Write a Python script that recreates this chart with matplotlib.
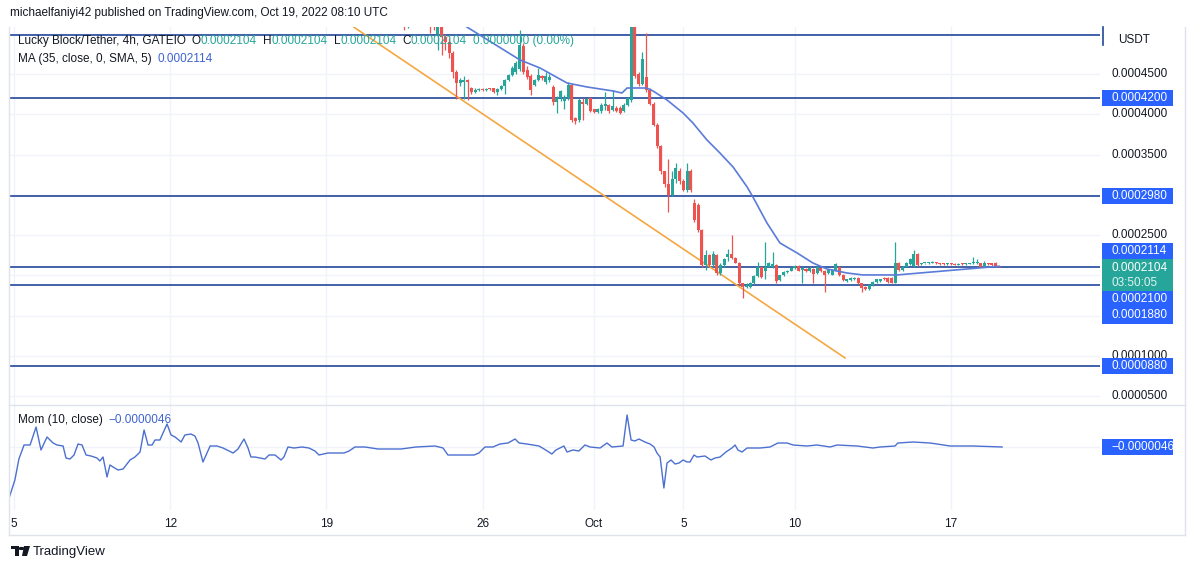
import numpy as np
import matplotlib
matplotlib.use("Agg")
import matplotlib.pyplot as plt
from matplotlib import patches, transforms

W, H, DPI = 1194, 570, 100
plt.rcParams['font.family'] = ['Liberation Sans', 'DejaVu Sans']

# ---------------- data ----------------
# time unit: days since 2022-09-05 00:00 ; price unit: 1e-7 USDT
P = 1e-7
candle_start = 17.5          # first 4h candle: Sep 22 12:00
candle_step = 1 / 6          # 4 hours
opens = [5350,5300,5320,5280,5300,5250,5220,5180,5150,5000,5120,4960,4900,4760,4530,4390,4400,4420,4330,4280,
         4300,4310,4300,4315,4320,4280,4310,4350,4430,4490,4520,4560,4850,4550,4480,4363,4426,4470,4400,4420,
         4340,4150,4200,4170,4200,4360,3950,3930,4150,4130,4200,4060,4030,4040,4100,4120,4050,4080,4080,4040,
         4120,4180,5150,4500,4380,4460,4300,4130,3870,3600,3290,3130,3000,3200,3300,3170,3060,3300,2900,2870,
         2560,2130,2250,2130,2250,2030,2130,2230,2270,2220,2160,1900,1860,1860,1900,1990,2100,2050,2110,2100,
         2130,1940,2000,2040,2060,2090,2120,2070,2080,2050,2080,2030,2090,2060,2030,2010,2070,2110,2010,1930,
         1940,1950,1970,1900,1860,1830,1880,1920,1930,1970,1970,1970,1910,2160,2070,2110,2140,2120,2260,2140,
         2150,2150,2160,2160,2150,2145,2140,2145,2145,2135,2150,2140,2145,2150,2150,2150,2110,2150,2150,2150,
         2110]
highs = [5450,5400,5380,5360,5350,5300,5260,5230,5200,5150,5150,5000,4950,4780,4550,4450,4470,4440,4340,4320,
         4330,4320,4330,4330,4330,4320,4360,4440,4500,4600,4660,5046,4880,4600,4500,4440,4570,4490,4520,4500,
         4360,4230,4300,4240,4400,4380,3970,4200,4200,4200,4220,4070,4080,4140,4280,4130,4300,4100,4100,4140,
         4220,5400,5300,4520,4773,5010,4320,4150,3890,3620,3300,3450,3300,3400,3330,3200,3390,3320,2950,2900,
         2580,2320,2260,2300,2260,2150,2220,2330,2500,2230,2170,1910,1900,1920,2000,2170,2110,2410,2170,2290,
         2140,2010,2050,2070,2100,2130,2130,2110,2090,2100,2090,2120,2100,2070,2080,2080,2160,2120,2020,1960,
         1980,1980,1980,1910,1870,1890,1930,1960,1960,1980,1980,1980,2420,2170,2120,2170,2220,2320,2280,2160,
         2160,2165,2175,2170,2160,2150,2150,2150,2150,2150,2155,2155,2160,2230,2210,2160,2180,2155,2160,2170,
         2115]
lows = [5050,5070,5150,5150,5120,5100,5090,5010,5040,4798,4736,4800,4700,4450,4190,4350,4190,4180,4250,4270,
        4290,4290,4290,4300,4270,4240,4300,4250,4410,4470,4500,4540,4500,4440,4240,4350,4410,4430,4380,4400,
        4120,4010,4170,4060,4180,3900,3880,3900,3930,4120,4030,4020,4020,4020,4050,4020,4040,4030,4000,4030,
        4100,4150,4450,4350,4360,4280,4110,3850,3580,3260,3100,2790,2980,3150,3140,3050,3040,3040,2660,2540,
        2100,2070,2110,2100,2010,2000,2110,2180,2200,2150,1880,1720,1840,1850,1890,1980,1970,1960,2100,2090,
        1900,1930,1990,2030,2050,2080,2050,1900,2040,2040,1910,2020,2040,1800,2020,2000,2060,1990,1930,1920,
        1930,1940,1890,1790,1820,1820,1870,1910,1920,1940,1910,1900,1900,2060,2060,2100,2130,2110,2120,2130,
        2140,2145,2150,2145,2135,2135,2135,2135,2130,2130,2135,2135,2140,2145,2140,2100,2100,2135,2120,2100,
        2100]
closes = [5300,5320,5280,5300,5250,5220,5180,5150,5100,5120,4960,4900,4760,4530,4390,4430,4430,4400,4280,4300,
          4310,4300,4315,4310,4280,4310,4350,4430,4490,4580,4636,4860,4520,4460,4300,4426,4490,4450,4480,4460,
          4150,4200,4290,4200,4360,3930,3920,4180,4130,4190,4040,4030,4060,4120,4130,4040,4100,4040,4020,4120,
          4200,5150,4470,4380,4680,4300,4130,3870,3600,3290,3130,3000,3200,3330,3170,3060,3300,3060,2690,2560,
          2130,2250,2130,2270,2030,2130,2200,2270,2220,2160,1900,1860,1880,1900,1990,2100,1980,2110,2160,2140,
          1930,2000,2040,2060,2090,2120,2060,2090,2050,2090,2020,2110,2050,2010,2070,2070,2140,2000,1940,1950,
          1970,1960,1900,1850,1830,1880,1920,1950,1950,1950,1920,1910,2160,2070,2110,2160,2200,2270,2130,2150,
          2155,2160,2170,2150,2140,2140,2145,2140,2135,2145,2140,2150,2155,2160,2160,2110,2160,2140,2130,2110,
          2104]

ma_t = [20.30,22.68,23.58,24.79,25.68,26.85,27.25,27.48,28.37,28.64,29.27,29.99,30.43,31.06,31.64,32.23,
        32.86,33.12,33.75,34.33,35.10,35.81,36.44,37.34,38.05,39.58,44.17]
ma_p = [5083,4674,4574,4388,4339,4289,4264,4326,4326,4289,4177,4016,3892,3681,3520,3346,
        3098,2974,2651,2403,2279,2154,2080,2030,2006,2006,2114]

trend_t = [15.24, 37.25]
trend_p = [5080, 976]

levels = [4980, 4200, 2980, 2100, 1880, 880]

mom_t = [-0.22,0.04,0.22,0.45,0.72,0.99,1.21,1.48,1.75,1.93,2.20,2.33,2.51,2.69,2.87,3.05,3.23,3.45,3.72,3.85,
         3.99,4.17,4.30,4.66,4.89,5.20,5.42,5.65,5.83,6.01,6.19,6.32,6.54,6.86,7.04,7.22,7.49,7.66,7.93,8.11,
         8.25,8.47,8.79,9.10,9.37,9.55,9.82,10.04,10.31,10.49,10.62,10.80,11.03,11.25,11.43,11.70,11.97,12.10,
         12.28,12.55,12.91,13.22,13.49,13.67,14.07,14.79,15.02,15.28,15.73,16.32,17.35,18.02,18.87,19.23,19.45,
         19.90,20.62,20.84,21.11,21.47,21.78,22.14,22.46,22.64,22.99,23.53,23.76,24.11,24.29,24.47,24.65,24.79,
         25.06,25.32,25.59,25.82,26.27,26.58,26.80,27.30,27.48,27.66,27.83,28.01,28.28,28.51,28.69,28.82,28.96,
         29.13,29.27,29.45,29.63,29.81,29.99,30.17,30.30,30.48,30.62,30.97,31.24,31.42,31.65,31.91,32.18,32.32,
         32.45,32.63,32.86,33.12,33.44,33.89,34.24,34.65,34.92,35.54,35.99,36.58,36.89,37.79,38.50,38.82,39.49,
         39.62,40.30,41.06,41.37,41.95,42.98,44.29]
# momentum, unit 1e-6 USDT
mom_v = [-167.8,-110.2,-43.0,1.8,1.8,59.4,-14.2,27.4,8.2,1.8,-1.4,-39.8,-43.0,-30.2,5.0,1.8,-30.2,-33.4,-39.8,
         -49.4,-36.6,-100.6,-62.2,-78.2,-75.0,-46.2,-36.6,-20.6,49.8,1.8,1.8,17.8,17.8,69.0,33.8,27.4,11.4,33.8,
         37.0,30.6,8.2,-52.6,-1.4,-1.4,-7.8,-14.2,-23.8,-11.0,21.0,-7.8,-36.6,-36.6,-39.8,-43.0,-30.2,-30.2,-46.2,
         -36.6,-4.6,-7.8,-4.6,-7.8,-17.4,-30.2,-23.8,-23.8,-17.4,-4.6,-4.6,-11.0,-11.0,-4.6,-1.4,-7.8,-30.2,-30.2,
         -30.2,-23.8,-4.6,-4.6,5.0,8.2,21.0,8.2,5.0,-1.4,-11.0,-27.0,-14.2,-7.8,-1.4,-20.6,-14.2,-17.4,1.8,-4.6,
         -7.8,8.2,-4.6,-1.4,97.8,17.8,14.6,21.0,11.4,5.0,-4.6,-23.8,-36.6,-135.8,-55.8,-46.2,-59.0,-55.8,-46.2,
         -52.6,-52.6,-30.2,-36.6,-33.4,-46.2,-39.8,-36.6,-20.6,-7.8,1.8,-14.2,-20.6,-7.8,-7.8,-7.8,-4.6,8.2,8.2,
         1.8,-1.4,1.8,-4.6,1.8,-1.4,-7.8,-4.6,-1.4,8.2,11.4,8.2,5.0,-1.4,-1.4,-4.6]

date_ticks = [0, 7, 14, 21, 26, 30, 35, 42]
date_labels = ["5", "12", "19", "26", "Oct", "5", "10", "17"]
price_ticks = [4500, 4000, 3500, 2500, 1000, 500]

# ---------------- styling ----------------
GREEN, RED = '#26a69a', '#ef5350'
LINE = '#22479a'
BLUE_BOX = '#2962ff'
TXT = '#131722'
GRID = '#f0f3fa'
BORDER = '#e0e3eb'

fig = plt.figure(figsize=(W / DPI, H / DPI), dpi=DPI)
fig.patch.set_facecolor('white')

def fx(x): return x / W
def fy(y): return 1 - y / H

L, R = 9, 1100
ax = fig.add_axes([fx(L), fy(405), fx(R) - fx(L), fy(27) - fy(405)])
ax2 = fig.add_axes([fx(L), fy(510), fx(R) - fx(L), fy(405) - fy(510)])
xlim = ((L - 14) / 22.31, (R - 14) / 22.31)
for a in (ax, ax2):
    a.set_xlim(*xlim)
    for s in a.spines.values():
        s.set_visible(False)
    a.set_yticks([])
    a.set_facecolor('none')
ax.set_xticks([])
ax.set_ylim(392 * P, 5083 * P)
ax2.set_ylim(-206.2, 129.8)

# grid
for v in range(500, 5001, 500):
    ax.axhline(v * P, color=GRID, lw=1, zorder=0)
for t in date_ticks:
    ax.axvline(t, color=GRID, lw=1, zorder=0)
    ax2.axvline(t, color=GRID, lw=1, zorder=0)
ax2.axhline(-4.6, color=GRID, lw=1, zorder=0)

# candles
o = np.array(opens) * P; h = np.array(highs) * P
lo = np.array(lows) * P; c = np.array(closes) * P
t = candle_start + np.arange(len(o)) * candle_step
col = np.where(c >= o, GREEN, RED)
ax.vlines(t, lo, h, colors=col, lw=0.9, zorder=3)
body = np.maximum(np.abs(c - o), 1.2e-6)
ax.bar(t, body, bottom=np.minimum(o, c), width=0.135, color=col, lw=0, zorder=4)

# levels, trend, MA
for lv in levels:
    ax.axhline(lv * P, color=LINE, lw=1.2, zorder=2)
ax.plot(trend_t, np.array(trend_p) * P, color='#f5a742', lw=1.2, zorder=2)
ax.plot(ma_t, np.array(ma_p) * P, color='#5a7bd8', lw=1.2, zorder=5)

# momentum
ax2.plot(mom_t, mom_v, color='#4c70cf', lw=1.0)
ax2.set_xticks(date_ticks)
ax2.set_xticklabels(date_labels, fontsize=8.5, color=TXT)
ax2.tick_params(axis='x', length=0, pad=6)

# frame and separators
fig.add_artist(plt.Line2D([fx(L), fx(1185)], [fy(405), fy(405)], color=BORDER, lw=1))
fig.add_artist(plt.Line2D([fx(L), fx(1185)], [fy(535), fy(535)], color=BORDER, lw=1))
fig.add_artist(plt.Line2D([fx(L), fx(L)], [fy(27), fy(535)], color=BORDER, lw=1))
fig.add_artist(plt.Line2D([fx(1185), fx(1185)], [fy(27), fy(535)], color=BORDER, lw=1))
fig.add_artist(plt.Line2D([fx(1103), fx(1103)], [fy(27), fy(45)], color=LINE, lw=1.2))

# right price axis
bt = transforms.blended_transform_factory(fig.transFigure, ax.transData)
for v in price_ticks:
    fig.text(fx(1112), v * P, f"{v*P:.7f}", transform=bt, fontsize=8.5, color=TXT, va='center', ha='left')
fig.text(fx(1118), fy(40), "USDT", fontsize=8.5, color=TXT, va='center', ha='left')

def ypx_of(val):
    disp = ax.transData.transform((0, val))[1]
    return H - disp * H / fig.bbox.height

def box(yc, text, color=BLUE_BOX, hgt=16):
    fig.add_artist(patches.Rectangle((fx(1102), fy(yc + hgt / 2)), fx(1173) - fx(1102), hgt / H,
                                     facecolor=color, edgecolor='none', zorder=5))
    if text:
        fig.text(fx(1111), fy(yc), text, fontsize=8.5, color='white', va='center', ha='left', zorder=6)

box(ypx_of(4200 * P), "0.0004200")
box(ypx_of(2980 * P), "0.0002980")
box(251, "0.0002114")
box(275, None, color=GREEN, hgt=32)
fig.text(fx(1111), fy(268), "0.0002104", fontsize=8.5, color='white', va='center', zorder=6)
fig.text(fx(1111), fy(283.5), "03:50:05", fontsize=8.5, color='#dff3ef', va='center', zorder=6)
box(299, "0.0002100")
box(315.5, "0.0001880", hgt=17)
box(ypx_of(880 * P), "0.0000880")
box(447, "\u22120.0000046")

# header texts
def seq(x, y, parts, size=8.5):
    r = fig.canvas.get_renderer()
    for s, colr, gap in parts:
        tt = fig.text(fx(x), fy(y), s, fontsize=size, color=colr, va='center', ha='left', zorder=7)
        x += tt.get_window_extent(r).width + gap

fig.text(fx(10), fy(13), "michaelfaniyi42 published on TradingView.com, Oct 19, 2022 08:10 UTC",
         fontsize=8.5, color=TXT, va='center', ha='left')
seq(18, 41, [("Lucky Block/Tether, 4h, GATEIO", TXT, 6), ("O", TXT, 0), ("0.0002104", GREEN, 6),
             ("H", TXT, 0), ("0.0002104", GREEN, 6), ("L", TXT, 0), ("0.0002104", GREEN, 6),
             ("C", TXT, 0), ("0.0002104", GREEN, 6), ("0.0000000 (0.00%)", GREEN, 0)])
seq(18, 59, [("MA (35, close, 0, SMA, 5)", TXT, 6), ("0.0002114", '#3f63d0', 0)])
seq(18, 420, [("Mom (10, close)", TXT, 6), ("\u22120.0000046", '#3f63d0', 0)])

# TradingView logo
fig.add_artist(patches.Rectangle((fx(11), fy(549)), fx(8), 3 / H, color=TXT, lw=0))
fig.add_artist(patches.Rectangle((fx(15), fy(556)), fx(3.5), 9 / H, color=TXT, lw=0))
fig.add_artist(patches.Circle((fx(21.5), fy(548.5)), 1.6 / H, color=TXT, lw=0, transform=fig.transFigure))
fig.add_artist(patches.Polygon([(fx(24), fy(546)), (fx(30), fy(546)), (fx(27), fy(556)), (fx(22), fy(556))],
                               closed=True, color=TXT, lw=0))
fig.text(fx(33), fy(551.5), "TradingView", fontsize=9.5, color=TXT, va='center', ha='left')

fig.savefig("out.png", dpi=DPI, facecolor='white')
